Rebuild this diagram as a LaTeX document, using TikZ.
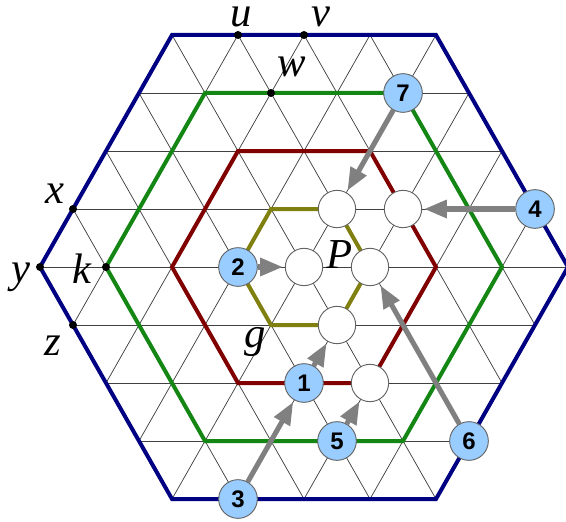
\documentclass[tikz,border=0pt]{standalone}
\usepackage{fontspec}
\setmainfont{Liberation Serif}
\setsansfont{Liberation Sans}
\usetikzlibrary{arrows.meta}
\definecolor{hexblue}{RGB}{0,0,130}
\definecolor{hexgreen}{RGB}{20,134,20}
\definecolor{hexred}{RGB}{128,0,0}
\definecolor{hexolive}{RGB}{128,128,16}
\definecolor{numblue}{RGB}{153,204,255}
\definecolor{rimgray}{RGB}{100,100,100}
\definecolor{arrgray}{RGB}{128,128,128}
\tikzset{
  latline/.style={draw=black!75, line width=0.55pt},
  hexline/.style={line width=3pt},
  dotpt/.style={circle, fill=black, inner sep=0pt, minimum size=6pt},
  numnode/.style={circle, fill=numblue, draw=rimgray, line width=0.7pt, minimum size=29pt, inner sep=0pt,
    font=\sffamily\bfseries\fontsize{18}{18}\selectfont},
  emptynode/.style={circle, fill=white, draw=rimgray, line width=0.7pt, minimum size=28pt, inner sep=0pt},
  lbl/.style={anchor=base, inner sep=0pt, font=\itshape\fontsize{32}{32}\selectfont},
  toplbl/.style={lbl, text height=15pt},
  garrow/.style={draw=arrgray, line width=3.8pt, -{Triangle[length=17pt,width=13pt]}, shorten >=1.5pt}
}
\begin{document}
\begin{tikzpicture}[x=24.75pt, y=43.5pt]
\useasboundingbox (-9.2121,-4.3793) rectangle (7.9394,4.6034);
% lattice
\begin{scope}
\clip (-8,0) -- (-4,4) -- (4,4) -- (8,0) -- (4,-4) -- (-4,-4) -- cycle;
\foreach \j in {-4,...,4} { \draw[latline] (-9,\j) -- (9,\j); }
\foreach \c in {-12,-10,...,12} {
  \draw[latline] (\c-5,-5) -- (\c+5,5);
  \draw[latline] (\c+5,-5) -- (\c-5,5);
}
\end{scope}
% hexagons
\draw[hexline, hexblue] (-8,0) -- (-4,4) -- (4,4) -- (8,0) -- (4,-4) -- (-4,-4) -- cycle;
\draw[hexline, hexgreen] (-6,0) -- (-3,3) -- (3,3) -- (6,0) -- (3,-3) -- (-3,-3) -- cycle;
\draw[hexline, hexred] (-4,0) -- (-2,2) -- (2,2) -- (4,0) -- (2,-2) -- (-2,-2) -- cycle;
\draw[hexline, hexolive] (-2,0) -- (-1,1) -- (1,1) -- (2,0) -- (1,-1) -- (-1,-1) -- cycle;
% dots
\node[dotpt] (du) at (-2,4) {};
\node[dotpt] (dv) at (0,4) {};
\node[dotpt] (dw) at (-1,3) {};
\node[dotpt] (dx) at (-7,1) {};
\node[dotpt] (dy) at (-8,0) {};
\node[dotpt] (dk) at (-6,0) {};
\node[dotpt] (dz) at (-7,-1) {};
% labels
\node[toplbl] (lu) at ({(241-304)/33},{(267-27)/58}) {u};
\node[toplbl] (lv) at ({(321-304)/33},{(267-27)/58}) {v};
\node[lbl] (lw) at ({(292-304)/33},{(267-77)/58}) {w};
\node[lbl] (lx) at ({(55-304)/33},{(267-203)/58}) {x};
\node[lbl] (ly) at ({(21-304)/33},{(267-282)/58}) {y};
\node[lbl] (lk) at ({(82-304)/33},{(267-283)/58}) {k};
\node[lbl] (lz) at ({(53-304)/33},{(267-355)/58}) {z};
\node[lbl] (lg) at ({(255-304)/33},{(267-347)/58}) {g};
\node[lbl] (lP) at ({(340-304)/33},{(267-268)/58}) {P};
% empty circles
\node[emptynode] (wa) at (1,1) {};
\node[emptynode] (wb) at (3,1) {};
\node[emptynode] (wc) at (0,0) {};
\node[emptynode] (wd) at (2,0) {};
\node[emptynode] (we) at (1,-1) {};
\node[emptynode] (wf) at (2,-2) {};
% numbered circles
\node[numnode] (n1) at (0,-2) {1};
\node[numnode] (n2) at (-2,0) {2};
\node[numnode] (n3) at (-2,-4) {3};
\node[numnode] (n4) at (7,1) {4};
\node[numnode] (n5) at (1,-3) {5};
\node[numnode] (n6) at (5,-3) {6};
\node[numnode] (n7) at (3,3) {7};
% arrows
\draw[garrow] (n7) -- (wa);
\draw[garrow] (n4) -- (wb);
\draw[garrow] (n2) -- (wc);
\draw[garrow] (n6) -- (wd);
\draw[garrow] (n1) -- (we);
\draw[garrow] (n5) -- (wf);
\draw[garrow] (n3) -- (n1);
\end{tikzpicture}
\end{document}
